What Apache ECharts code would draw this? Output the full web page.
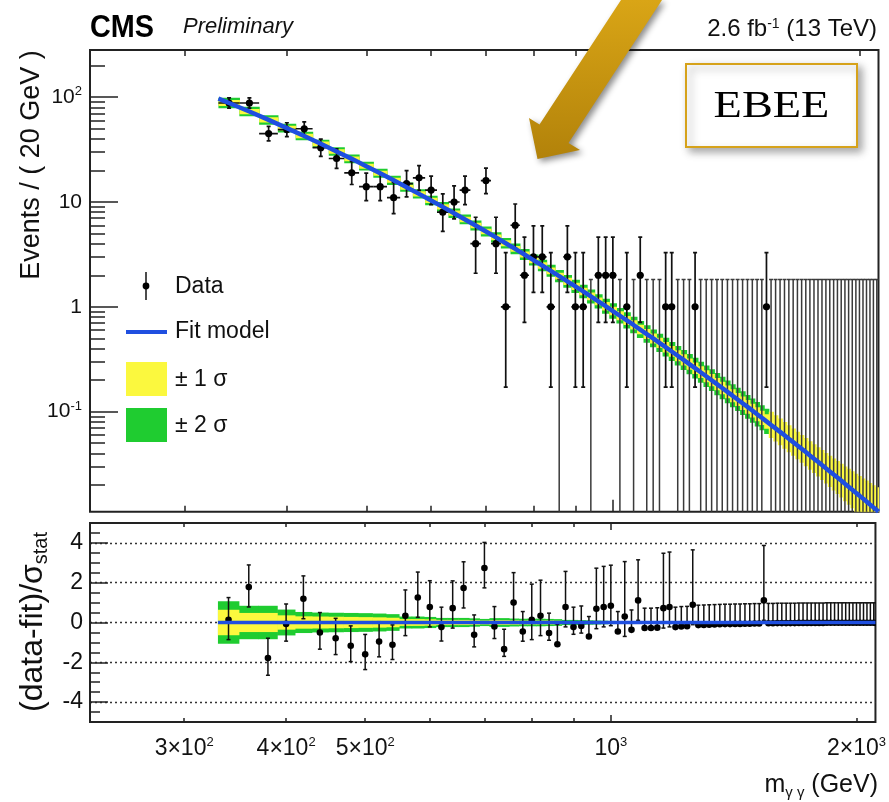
<!DOCTYPE html>
<html>
<head>
<meta charset="utf-8">
<title>EBEE diphoton spectrum</title>
<script src="https://cdn.jsdelivr.net/npm/echarts@6/dist/echarts.min.js"></script>
<style>
  html, body { margin: 0; padding: 0; background: #fff; }
  #echartsMain { width: 889px; height: 802px; }
</style>
</head>
<body>
<div id="echartsMain"></div>
<script>
// ---- data (20 GeV bins, 330 - 2110 GeV) ----
var massBins = [340,360,380,400,420,440,460,480,500,520,
  540,560,580,600,620,640,660,680,700,720,
  740,760,780,800,820,840,860,880,900,920,
  940,960,980,1000,1020,1040,1060,1080,1100,1120,
  1140,1160,1180,1200,1220,1240,1260,1280,1300,1320,
  1340,1360,1380,1400,1420,1440,1460,1480,1500,1520,
  1540,1560,1580,1600,1620,1640,1660,1680,1700,1720,
  1740,1760,1780,1800,1820,1840,1860,1880,1900,1920,
  1940,1960,1980,2000,2020,2040,2060,2080,2100];

var counts = [88,88,45,49,50,33,26,19,14,14,
  11,15,17,13,8,10,13,4,16,4,
  1,6,2,3,3,1,0,3,1,1,
  0,2,2,2,0,1,0,2,0,0,
  0,1,1,0,0,0,1,0,0,0,
  0,0,0,0,0,0,0,0,0,0,
  1,0,0,0,0,0,0,0,0,0,
  0,0,0,0,0,0,0,0,0,0,
  0,0,0,0,0,0,0,0,0];

// fit model, events per bin
var fitValues = [88.1,73.0,60.7,50.7,42.6,35.9,30.3,25.8,21.95,18.8,
  16.1,13.85,11.96,10.35,8.98,7.82,6.82,5.965,5.23,4.593,
  4.045,3.568,3.154,2.794,2.48,2.204,1.963,1.751,1.565,1.401,
  1.255,1.127,1.013,0.912,0.822,0.742,0.671,0.607,0.55,0.499,
  0.453,0.412,0.375,0.3415,0.3114,0.2844,0.26,0.2377,0.2177,0.1995,
  0.183,0.168,0.1544,0.142,0.1306,0.1204,0.111,0.1024,0.0945,0.0873,
  0.0807,0.0747,0.0692,0.0641,0.0594,0.0551,0.0512,0.0475,0.0442,0.0411,
  0.0382,0.0356,0.0332,0.0309,0.0288,0.0269,0.0251,0.0235,0.022,0.0205,
  0.0192,0.018,0.0168,0.0158,0.0148,0.0139,0.013,0.0122,0.0115];
var fitEnds = [[330, 97.0], [2110, 0.0111]];

// (data-fit)/sigma_stat
var pulls = [0.14,1.78,-1.79,-0.07,1.19,-0.5,-0.79,-1.17,-1.6,-0.96,
  -1.12,0.34,1.26,0.78,-0.23,0.72,1.73,-0.62,2.74,-0.2,
  -1.34,1.0,-0.45,0.14,0.34,-0.53,-1.09,0.78,-0.23,-0.17,
  -0.7,0.69,0.78,0.84,-0.45,0.3,-0.37,1.11,-0.28,-0.28,
  -0.26,0.72,0.78,-0.23,-0.2,-0.19,0.89,-0.13,-0.12,-0.11,
  -0.1,-0.09,-0.08,-0.08,-0.07,-0.07,-0.06,-0.06,-0.05,-0.05,
  1.11,-0.04,-0.04,-0.03,-0.03,-0.03,-0.03,-0.03,-0.02,-0.02,
  -0.02,-0.02,-0.02,-0.02,-0.02,-0.01,-0.01,-0.01,-0.01,-0.01,
  -0.01,-0.01,-0.01,-0.01,-0.01,-0.01,-0.01,-0.01,-0.01];

// fit uncertainty, upper panel: half width in decades
var band1Top = [.028,.025,.025,.023,.022,.022,.022,.022,.023,.023,
  .024,.024,.024,.025,.025,.025,.026,.026,.027,.027,
  .028,.028,.029,.030,.031,.032,.033,.034,.035,.036,
  .037,.038,.040,.041,.042,.043,.044,.045,.047,.048,
  .049,.050,.051,.052,.053,.054,.055,.056,.057,.058,
  .059,.060,.061,.062,.063,.064,.065,.066,.067,.068,
  .069,.125,.126,.127,.128,.129,.130,.131,.132,.134,
  .136,.138,.140,.143,.146,.149,.153,.157,.161,.166,
  .171,.176,.181,.187,.193,.199,.205,.211,.217];
var band2Top = [.050,.045,.045,.042,.040,.040,.040,.041,.042,.043,
  .044,.044,.045,.045,.046,.046,.047,.048,.048,.049,
  .050,.051,.052,.053,.055,.057,.059,.061,.063,.065,
  .067,.069,.071,.073,.075,.077,.079,.081,.083,.085,
  .087,.089,.091,.093,.095,.097,.099,.100,.102,.104,
  .105,.107,.108,.110,.111,.113,.114,.116,.117,.119,
  .120,0,0,0,0,0,0,0,0,0,
  0,0,0,0,0,0,0,0,0,0,
  0,0,0,0,0,0,0,0,0];

// fit uncertainty, lower panel: half width in units of sigma_stat
var band1Pull = [0.64,0.48,0.48,0.36,0.31,0.30,0.29,0.28,0.27,0.26,
  0.24,0.17,0.17,0.16,0.13,0.13,0.13,0.12,0.10,0.12,
  0.12,0.11,0.10,0.10,0.10,0.10,0.09,0.07,0.07,0.07,
  0.06,0.06,0.05,0.05,0.04,0.04,0.04,0.04,0.03,0.03,
  0.03,0.03,0.03,0.03,0.03,0.03,0.03,0.03,0.03,0.03,
  0.02,0.02,0.02,0.02,0.02,0.02,0.02,0.02,0.02,0.02,
  0.02,0.03,0.03,0.03,0.03,0.03,0.03,0.03,0.03,0.03,
  0.03,0.03,0.03,0.03,0.03,0.03,0.03,0.03,0.03,0.03,
  0.03,0.03,0.03,0.03,0.03,0.03,0.03,0.03,0.03];
var band2Pull = [1.07,0.84,0.84,0.65,0.53,0.50,0.49,0.48,0.47,0.45,
  0.42,0.30,0.30,0.28,0.23,0.23,0.23,0.21,0.18,0.22,
  0.22,0.20,0.19,0.19,0.19,0.18,0.17,0.13,0.13,0.12,
  0.11,0.10,0.09,0.08,0.07,0.07,0.06,0.06,0.06,0.05,
  0.05,0.05,0.05,0.04,0.04,0.04,0.04,0.04,0.04,0.04,
  0.03,0.03,0.03,0.03,0.03,0.03,0.03,0.03,0.03,0.03,
  0.03,0,0,0,0,0,0,0,0,0,
  0,0,0,0,0,0,0,0,0,0,
  0,0,0,0,0,0,0,0,0];

var binWidth = 20;

// ticks
var xMajorTicks = [1000];
var xMinorTicks = [300, 400, 500, 600, 700, 800, 900, 2000];
var xTickLabels = [300, 400, 500, 1000, 2000];
var yMajorTicks = [0.1, 1, 10, 100];
var yMinorTicks = [0.02,0.03,0.04,0.05,0.06,0.07,0.08,0.09,
  0.2,0.3,0.4,0.5,0.6,0.7,0.8,0.9,
  2,3,4,5,6,7,8,9,
  20,30,40,50,60,70,80,90,200];
var pullMajorTicks = [-4, -2, 0, 2, 4];
var pullMinorTicks = [-4.5,-3.5,-3,-2.5,-1.5,-1,-0.5,0.5,1,1.5,2.5,3,3.5,4.5];

var COL_YELLOW = '#fbf83e';
var COL_GREEN = '#1fcc30';
var COL_BLUE = '#1f4fe0';
var FONT = '"Liberation Sans", Arial, Helvetica, sans-serif';

var lg = function (v) { return Math.log(v) / Math.LN10; };
var X_MIN = lg(230), X_MAX = lg(2110);
var Y_MIN = lg(0.0111), Y_MAX = lg(282);

// Garwood Poisson intervals (approximation)
function poissonLo(n) {
  if (n === 0) return 0;
  var t = 1 - 1 / (9 * n) - 1 / (3 * Math.sqrt(n));
  return n - n * t * t * t;
}
function poissonHi(n) {
  var m = n + 1;
  var t = 1 - 1 / (9 * m) + 1 / (3 * Math.sqrt(m));
  return m * t * t * t - n;
}

var myChart = echarts.init(document.getElementById('echartsMain'));

function xTicks(grid, pos, values, len, label) {
  return {
    type: 'value', gridIndex: grid, position: pos, offset: 0,
    min: X_MIN, max: X_MAX,
    axisLine: { show: false, onZero: false },
    axisTick: { show: true, inside: true, length: len, customValues: values.map(lg),
      lineStyle: { color: '#222', width: 1.5 } },
    axisLabel: label || { show: false },
    splitLine: { show: false }
  };
}
function yTicks(grid, min, max, values, len, label, split) {
  return {
    type: 'value', gridIndex: grid, position: 'left', offset: 0,
    min: min, max: max,
    axisLine: { show: false, onZero: false },
    axisTick: { show: true, inside: true, length: len, customValues: values,
      lineStyle: { color: '#222', width: 1.5 } },
    axisLabel: label || { show: false },
    splitLine: split ? { show: true, lineStyle: { color: '#333', width: 1.3, type: [2, 3] } } : { show: false }
  };
}
function supRich() {
  return { sup: { fontSize: 13, lineHeight: 13, verticalAlign: 'top', fontFamily: FONT, color: '#111' } };
}

var xLabel = {
  show: true, customValues: xTickLabels.map(lg), margin: 14,
  fontSize: 23, lineHeight: 26, color: '#111', fontFamily: FONT,
  formatter: function (v) {
    var m = Math.round(Math.pow(10, v));
    if (m === 1000) return '10{sup|3}';
    if (m === 2000) return '2\u00d710{sup|3}';
    return (m / 100) + '\u00d710{sup|2}';
  },
  rich: supRich()
};
var yLabel = {
  show: true, customValues: yMajorTicks.map(lg), margin: 8,
  fontSize: 21, lineHeight: 24, color: '#111', fontFamily: FONT,
  formatter: function (v) {
    var e = Math.round(v);
    if (e === 0) return '1';
    if (e === 1) return '10';
    return '10{sup|' + e + '}';
  },
  rich: supRich()
};
var pullLabel = {
  show: true, customValues: pullMajorTicks, margin: 7,
  fontSize: 23, color: '#111', fontFamily: FONT
};

// rectangles of the fit band, one per bin
function bandRenderer(color) {
  return function (params, api) {
    var h = api.value(3);
    if (!h) return;
    var c = api.value(2);
    var p0 = api.coord([api.value(0), c + h]);
    var p1 = api.coord([api.value(1), c - h]);
    return {
      type: 'rect',
      shape: { x: p0[0], y: p0[1], width: p1[0] - p0[0] + 0.6, height: p1[1] - p0[1] },
      style: { fill: color }
    };
  };
}

// data points: dot, poisson error bar and bin width
function renderData(params, api) {
  var x = api.value(0), n = api.value(4);
  var lo = poissonLo(n), hi = poissonHi(n);
  var top = api.coord([x, lg(n + hi)]);
  var yBot = n > 0 ? api.coord([x, lg(n - lo)])[1] : params.coordSys.y + params.coordSys.height + 5;
  var st = { stroke: n > 0 ? '#111' : '#3a3a3a', lineWidth: n > 0 ? 1.7 : 1.5 };
  var kids = [
    { type: 'line', shape: { x1: top[0], y1: top[1], x2: top[0], y2: yBot }, style: st },
    { type: 'line', shape: { x1: top[0] - 2, y1: top[1], x2: top[0] + 2, y2: top[1] }, style: st }
  ];
  if (n > 0) {
    var p = api.coord([x, lg(n)]);
    var xl = api.coord([api.value(2), lg(n)])[0];
    var xr = api.coord([api.value(3), lg(n)])[0];
    kids.push({ type: 'line', shape: { x1: top[0] - 2, y1: yBot, x2: top[0] + 2, y2: yBot }, style: st });
    kids.push({ type: 'line', shape: { x1: xl, y1: p[1], x2: xr, y2: p[1] }, style: st });
    kids.push({ type: 'circle', shape: { cx: p[0], cy: p[1], r: 3.6 }, style: { fill: '#000' } });
  }
  return { type: 'group', children: kids };
}

function renderPull(params, api) {
  var x = api.value(0), v = api.value(1);
  var p = api.coord([x, v]);
  var t = api.coord([x, v + api.value(3)]);
  var b = api.coord([x, v - api.value(2)]);
  var st = { stroke: '#111', lineWidth: 1.5 };
  return {
    type: 'group',
    children: [
      { type: 'line', shape: { x1: p[0], y1: t[1], x2: p[0], y2: b[1] }, style: st },
      { type: 'line', shape: { x1: p[0] - 2, y1: t[1], x2: p[0] + 2, y2: t[1] }, style: st },
      { type: 'line', shape: { x1: p[0] - 2, y1: b[1], x2: p[0] + 2, y2: b[1] }, style: st },
      { type: 'circle', shape: { cx: p[0], cy: p[1], r: 3.3 }, style: { fill: '#000' } }
    ]
  };
}

var topBandData = function (widths) {
  return massBins.map(function (m, i) {
    return [lg(m - binWidth / 2), lg(m + binWidth / 2), lg(fitValues[i]), widths[i]];
  });
};
var pullBandData = function (widths) {
  return massBins.map(function (m, i) {
    return [lg(m - binWidth / 2), lg(m + binWidth / 2), 0, widths[i]];
  });
};

var fitLine = [[lg(fitEnds[0][0]), lg(fitEnds[0][1])]]
  .concat(massBins.map(function (m, i) { return [lg(m), lg(fitValues[i])]; }))
  .concat([[lg(fitEnds[1][0]), lg(fitEnds[1][1])]]);

// y dimension in log space so the data extent matches the axis
var pointData = massBins.map(function (m, i) {
  var n = counts[i];
  return [lg(m), n > 0 ? lg(n) : Y_MIN, lg(m - binWidth / 2), lg(m + binWidth / 2), n];
});
var pullData = massBins.map(function (m, i) {
  var n = counts[i], lo = poissonLo(n), hi = poissonHi(n);
  var dn, up;
  if (n === 0) { dn = 0; up = 1; }
  else if (pulls[i] >= 0) { dn = 1; up = hi / lo; }
  else { dn = lo / hi; up = 1; }
  return [lg(m), pulls[i], dn, up];
});

var option = {
  animation: false,
  backgroundColor: '#fff',
  grid: [
    { left: 90, top: 50, width: 788.5, height: 461.7, show: true, borderColor: '#222', borderWidth: 2, backgroundColor: 'transparent' },
    { left: 90, top: 523, width: 788.5, height: 199, show: true, borderColor: '#222', borderWidth: 2, backgroundColor: 'transparent' }
  ],
  xAxis: [
    xTicks(0, 'bottom', xMajorTicks, 12),
    xTicks(0, 'bottom', xMinorTicks, 6),
    xTicks(0, 'top', xMajorTicks, 12),
    xTicks(0, 'top', xMinorTicks, 6),
    xTicks(1, 'bottom', xMajorTicks, 7, xLabel),
    xTicks(1, 'bottom', xMinorTicks, 4),
    xTicks(1, 'top', xMajorTicks, 7),
    xTicks(1, 'top', xMinorTicks, 4)
  ],
  yAxis: [
    yTicks(0, Y_MIN, Y_MAX, yMajorTicks.map(lg), 28, yLabel),
    yTicks(0, Y_MIN, Y_MAX, yMinorTicks.map(lg), 15),
    yTicks(1, -5, 5, pullMajorTicks, 18, pullLabel, true),
    yTicks(1, -5, 5, pullMinorTicks, 10)
  ],
  series: [
    { name: '2 sigma', type: 'custom', xAxisIndex: 0, yAxisIndex: 0, clip: true,
      encode: { x: 0, y: 2 }, renderItem: bandRenderer(COL_GREEN), data: topBandData(band2Top) },
    { name: '1 sigma', type: 'custom', xAxisIndex: 0, yAxisIndex: 0, clip: true,
      encode: { x: 0, y: 2 }, renderItem: bandRenderer(COL_YELLOW), data: topBandData(band1Top) },
    { name: 'Fit model', type: 'line', xAxisIndex: 0, yAxisIndex: 0, showSymbol: false, clip: true,
      lineStyle: { color: COL_BLUE, width: 4.5 }, data: fitLine },
    { name: 'Data', type: 'custom', xAxisIndex: 0, yAxisIndex: 0, clip: true,
      encode: { x: 0, y: 1 }, renderItem: renderData, data: pointData },

    { name: 'pull 2 sigma', type: 'custom', xAxisIndex: 4, yAxisIndex: 2, clip: true,
      encode: { x: 0, y: 2 }, renderItem: bandRenderer(COL_GREEN), data: pullBandData(band2Pull) },
    { name: 'pull 1 sigma', type: 'custom', xAxisIndex: 4, yAxisIndex: 2, clip: true,
      encode: { x: 0, y: 2 }, renderItem: bandRenderer(COL_YELLOW), data: pullBandData(band1Pull) },
    { name: 'pull fit', type: 'line', xAxisIndex: 4, yAxisIndex: 2, showSymbol: false, clip: true,
      lineStyle: { color: COL_BLUE, width: 3.5 },
      data: [[lg(fitEnds[0][0]), 0], [lg(fitEnds[1][0]), 0]] },
    { name: 'pulls', type: 'custom', xAxisIndex: 4, yAxisIndex: 2, clip: true,
      encode: { x: 0, y: 1 }, renderItem: renderPull, data: pullData }
  ]
};

myChart.setOption(option);

// ---- texts, legend, label box and arrow ----
var txt = function (x, y, text, size, extra) {
  var el = {
    type: 'text', x: x, y: y, z: 50,
    style: { text: text, fontSize: size, fontFamily: FONT, fill: '#111',
      align: 'left', textAlign: 'left', verticalAlign: 'middle', textVerticalAlign: 'middle' }
  };
  if (extra) {
    for (var k in extra) {
      if (k === 'style') { for (var s in extra.style) el.style[s] = extra.style[s]; }
      else el[k] = extra[k];
    }
  }
  return el;
};

myChart.setOption({
  graphic: { elements: [
    txt(90, 28, 'CMS', 32, { scaleX: 0.9, style: { fontWeight: 'bold', fill: '#000' } }),
    txt(183, 27, 'Preliminary', 22, { style: { fontStyle: 'italic' } }),
    txt(877, 29, '2.6 fb{sup|-1} (13 TeV)', 24, { style: { align: 'right', textAlign: 'right',
      rich: { sup: { fontSize: 14, lineHeight: 14, verticalAlign: 'top', fontFamily: FONT, fill: '#111' } } } }),
    txt(32, 165, 'Events / ( 20 GeV )', 27, { rotation: Math.PI / 2,
      style: { align: 'center', textAlign: 'center' } }),
    txt(33, 622, '(data-fit)/\u03c3{sub|stat}', 32, { rotation: Math.PI / 2,
      style: { align: 'center', textAlign: 'center', lineHeight: 36,
        rich: { sub: { fontSize: 20, lineHeight: 20, verticalAlign: 'bottom', fontFamily: FONT, fill: '#111' } } } }),
    txt(878, 785, 'm{sub|\u03b3 \u03b3} (GeV)', 25, { style: { align: 'right', textAlign: 'right', lineHeight: 30,
      rich: { sub: { fontSize: 15, lineHeight: 15, verticalAlign: 'bottom', fontFamily: FONT, fill: '#111' } } } }),
    // legend
    { type: 'line', z: 50, shape: { x1: 146, y1: 272, x2: 146, y2: 300 }, style: { stroke: '#111', lineWidth: 1.5 } },
    { type: 'circle', z: 50, shape: { cx: 146, cy: 286, r: 3.4 }, style: { fill: '#000' } },
    txt(175, 287, 'Data', 23),
    { type: 'line', z: 50, shape: { x1: 126, y1: 332, x2: 167, y2: 332 }, style: { stroke: COL_BLUE, lineWidth: 4 } },
    txt(175, 332, 'Fit model', 23),
    { type: 'rect', z: 50, shape: { x: 126, y: 362, width: 41, height: 34 }, style: { fill: COL_YELLOW } },
    txt(175, 380, '\u00b1 1 \u03c3', 23),
    { type: 'rect', z: 50, shape: { x: 126, y: 408, width: 41, height: 34 }, style: { fill: COL_GREEN } },
    txt(175, 426, '\u00b1 2 \u03c3', 23),
    // category box
    { type: 'rect', z: 60, shape: { x: 686, y: 64, width: 171, height: 83 },
      style: { fill: '#fff', stroke: '#d6a21a', lineWidth: 2,
        shadowBlur: 8, shadowColor: 'rgba(0,0,0,0.35)', shadowOffsetX: 4, shadowOffsetY: 4 } },
    { type: 'text', z: 61, x: 771.5, y: 107, scaleX: 1.22,
      style: { text: 'EBEE', fontSize: 38, fontFamily: '"Liberation Serif", "Times New Roman", serif', fill: '#000',
        align: 'center', textAlign: 'center', verticalAlign: 'middle', textVerticalAlign: 'middle' } },
    // arrow
    { type: 'polygon', z: 70,
      shape: { points: [[621, 0], [662, 0], [568.5, 143], [580, 150], [537.5, 159], [529, 118], [539.5, 124.6]] },
      style: {
        fill: new echarts.graphic.LinearGradient(0, 0, 0, 1, [
          { offset: 0, color: '#d9a516' }, { offset: 1, color: '#b2820a' }]),
        shadowBlur: 6, shadowColor: 'rgba(0,0,0,0.45)', shadowOffsetX: 3, shadowOffsetY: 3
      } }
  ] }
});
</script>
</body>
</html>
